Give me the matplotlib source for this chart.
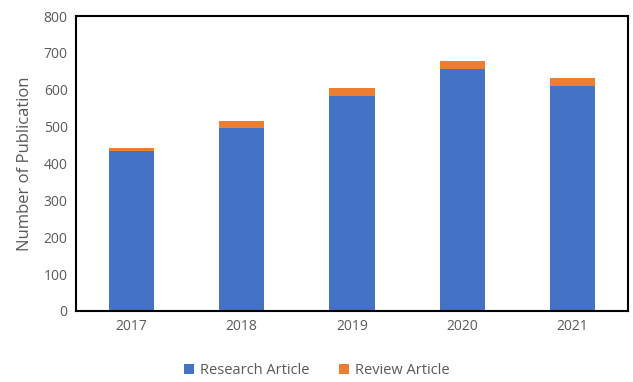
import matplotlib
matplotlib.use("Agg")
import matplotlib.pyplot as plt
import numpy as np

plt.rcParams['font.family'] = ['Open Sans', 'DejaVu Sans']

years = ['2017', '2018', '2019', '2020', '2021']
research = [433, 497, 584, 655, 610]
review = [9, 18, 21, 22, 21]

fig = plt.figure(figsize=(6.33, 3.82), dpi=100)
ax = fig.add_axes([0.12, 0.186, 0.872, 0.772])

x = np.arange(len(years))
w = 0.41
ax.bar(x, research, w, color='#4472C4', label='Research Article')
ax.bar(x, review, w, bottom=research, color='#ED7D31', label='Review Article')

ax.set_xlim(-0.5, 4.5)
ax.set_ylim(0, 800)
ax.set_yticks(range(0, 801, 100))
ax.set_xticks(x, years)
ax.tick_params(length=0, labelsize=10, colors='#595959', pad=6)
ax.set_ylabel('Number of Publication', fontsize=12, color='#595959', labelpad=8)
for s in ax.spines.values():
    s.set_color('black')
    s.set_linewidth(1.5)

fig.legend(loc='lower center', bbox_to_anchor=(0.5, -0.025), ncol=2, frameon=False,
           fontsize=10.5, labelcolor='#595959', handlelength=0.7, handleheight=0.7,
           columnspacing=2.0, handletextpad=0.4)

fig.savefig('out.png', dpi=100)
